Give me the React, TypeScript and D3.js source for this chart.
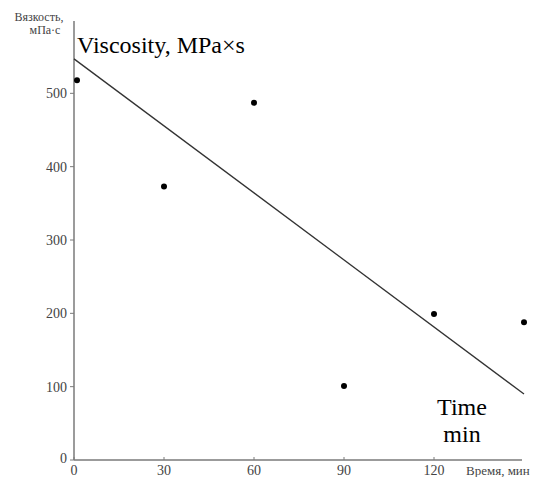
import React from "react";
import * as d3 from "d3";

const timeMin = [1, 30, 60, 90, 120, 150];
const viscosity = [518, 373, 487, 101, 199, 188];
const trendX = [0, 150];
const trendY = [547, 90];
const xTicks = [0, 30, 60, 90, 120];
const yTicks = [0, 100, 200, 300, 400, 500];

const W = 543;
const H = 477;
const FONT = "Liberation Serif";

export default function App() {
  const x = d3.scaleLinear().domain([0, 150]).range([74, 524]);
  const y = d3.scaleLinear().domain([0, 600]).range([460, 20]);
  const line = d3
    .line<number>()
    .x((_, i) => x(trendX[i]))
    .y((d) => y(d));
  const axisColor = "#7a7a7a";
  const labelColor = "#444";
  return (
    <div style={{ position: "absolute", left: 0, top: 0, width: W, height: H, fontFamily: FONT }}>
      <svg width={W} height={H} style={{ display: "block", background: "#fff", fontFamily: FONT }}>
        {/* axes */}
        <line x1={x(0)} x2={x(0)} y1={21} y2={y(0)} stroke={axisColor} strokeWidth={1.5} />
        <line x1={x(0)} x2={522} y1={y(0)} y2={y(0)} stroke={axisColor} strokeWidth={1.5} />
        {yTicks.map((t) => (
          <g key={"y" + t}>
            <line x1={x(0) - 4} x2={x(0)} y1={y(t)} y2={y(t)} stroke={axisColor} strokeWidth={1} />
            <text
              x={67}
              y={y(t) + (t === 0 ? 3 : 5)}
              textAnchor="end"
              fontSize={14}
              fill={labelColor}
              style={{ fontFamily: FONT }}
            >
              {t}
            </text>
          </g>
        ))}
        {xTicks.map((t) => (
          <g key={"x" + t}>
            <line x1={x(t)} x2={x(t)} y1={y(0) - 3} y2={y(0)} stroke={axisColor} strokeWidth={1} />
            <text x={x(t)} y={475} textAnchor="middle" fontSize={14} fill={labelColor} style={{ fontFamily: FONT }}>
              {t}
            </text>
          </g>
        ))}
        <text x={466} y={475} fontSize={13} fill={labelColor} style={{ fontFamily: FONT }}>
          Время, мин
        </text>
        <text x={39} y={21} textAnchor="middle" fontSize={12} fill={labelColor} style={{ fontFamily: FONT }}>
          Вязкость,
        </text>
        <text x={45} y={34} textAnchor="middle" fontSize={12} fill={labelColor} style={{ fontFamily: FONT }}>
          мПа·с
        </text>
        {/* trend line */}
        <path d={line(trendY) || ""} fill="none" stroke="#333" strokeWidth={1.3} />
        {/* points */}
        {timeMin.map((t, i) => (
          <circle key={"p" + i} cx={x(t)} cy={y(viscosity[i])} r={3} fill="#000" />
        ))}
        {/* English annotations */}
        <text x={77} y={53} fontSize={24} fill="#000" style={{ fontFamily: FONT }}>
          Viscosity, MPa×s
        </text>
        <text x={462} y={415} textAnchor="middle" fontSize={24} fill="#000" style={{ fontFamily: FONT }}>
          Time
        </text>
        <text x={462} y={442} textAnchor="middle" fontSize={24} fill="#000" style={{ fontFamily: FONT }}>
          min
        </text>
      </svg>
    </div>
  );
}
